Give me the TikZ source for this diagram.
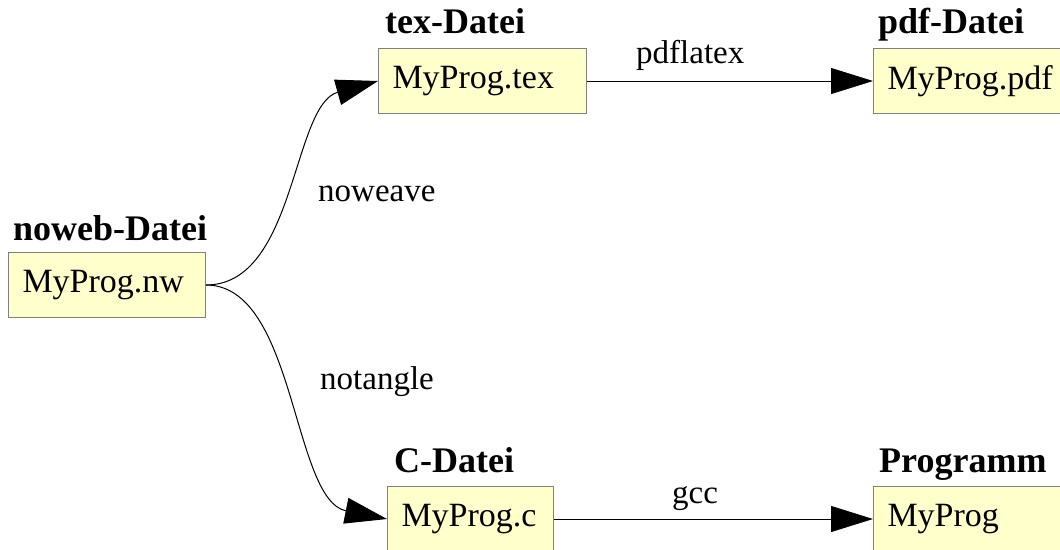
\documentclass[tikz,border=0pt]{standalone}
\usepackage{fontspec}
\setmainfont{Liberation Serif}
\usetikzlibrary{arrows.meta}
\definecolor{boxfill}{HTML}{FFFFCC}
\definecolor{boxline}{HTML}{808080}
\begin{document}
\begin{tikzpicture}[x=1pt,y=-1pt,
  file/.style={draw=boxline, fill=boxfill, line width=1pt, anchor=north west,
    minimum height=65pt, inner xsep=14pt, inner ysep=0pt, align=left,
    font=\fontsize{34}{40}\selectfont},
  heading/.style={anchor=base west, inner sep=0pt, font=\fontsize{36}{40}\selectfont\bfseries},
  tool/.style={anchor=base west, inner sep=0pt, font=\fontsize{33}{40}\selectfont},
  flow/.style={draw=black, line width=1pt, -{Triangle[length=42pt,width=26pt]}}]
\useasboundingbox (0,0) rectangle (1060,549);

% source files and results
\node[file, text width=169pt] (nw)   at (8,252)   {MyProg.nw};
\node[file, text width=180pt] (tex)  at (378,48)  {MyProg.tex};
\node[file, text width=200pt] (pdf)  at (873,48)  {MyProg.pdf};
\node[file, text width=138pt] (c)    at (387,486) {MyProg.c};
\node[file, text width=200pt] (prog) at (873,486) {MyProg};

% headings above the files
\node[heading] (hnw)   at (13,240)  {noweb-Datei};
\node[heading] (htex)  at (385,33)  {tex-Datei};
\node[heading] (hpdf)  at (878,33)  {pdf-Datei};
\node[heading] (hc)    at (394,472) {C-Datei};
\node[heading] (hprog) at (879,472) {Programm};

% tool names
\node[tool] (lpdflatex) at (636,63)  {pdflatex};
\node[tool] (lnoweave)  at (318,201) {noweave};
\node[tool] (lnotangle) at (320,389) {notangle};
\node[tool] (lgcc)      at (672,503) {gcc};

% processing steps
\draw[flow] (nw.east) .. controls +(90,0) and (292,105) .. (tex.west);
\draw[flow] (nw.east) .. controls +(90,0) and (292,500) .. (c.west);
\draw[flow] (tex.east) -- (pdf.west);
\draw[flow] (c.east) -- (prog.west);
\end{tikzpicture}
\end{document}
